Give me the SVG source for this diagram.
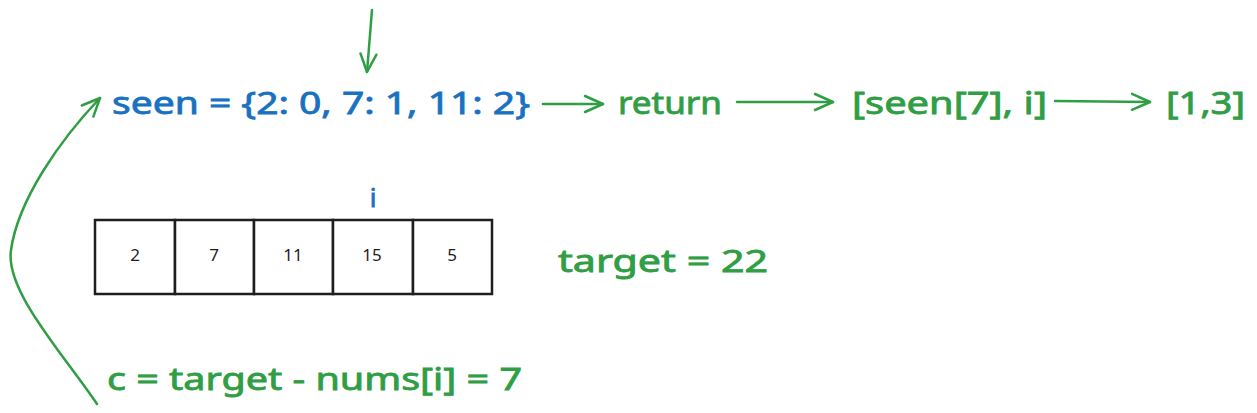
<svg xmlns="http://www.w3.org/2000/svg" width="1257" height="413" viewBox="0 0 1257 413">
<style>
.t{font-family:"Noto Sans","Liberation Sans",sans-serif;font-size:30px;stroke-width:0.8}
.blue{fill:#1971c2;stroke:#1971c2}
.green{fill:#2f9e44;stroke:#2f9e44}
.num{font-family:"Noto Sans","Liberation Sans",sans-serif;font-size:17px;fill:#1e1e1e;text-anchor:middle}
.conn{fill:none;stroke:#2f9e44;stroke-width:2.5;stroke-linecap:round}
.cell{fill:#ffffff;stroke:#1e1e1e;stroke-width:2.5}
</style>
<defs>
<marker id="ah" markerWidth="24" markerHeight="24" refX="20" refY="12" orient="auto" markerUnits="userSpaceOnUse">
<path d="M2,4 L20,12 L2,20" fill="none" stroke="#2f9e44" stroke-width="2.5" stroke-linecap="round" stroke-linejoin="round"/>
</marker>
</defs>
<rect width="1257" height="413" fill="#ffffff"/>
<g id="connectors">
<path class="conn" d="M372,10 L367,72" marker-end="url(#ah)"/>
<path class="conn" d="M543,104 L603,104" marker-end="url(#ah)"/>
<path class="conn" d="M737,102 L833,102" marker-end="url(#ah)"/>
<path class="conn" d="M1055,101 L1150,102" stroke-width="3" marker-end="url(#ah)"/>
<path class="conn" d="M97,404 C60,350 5,290 11,250 C18,200 60,140 100,98" marker-end="url(#ah)"/>
</g>
<g id="seen"><text class="t blue" x="112" y="114" textLength="418" lengthAdjust="spacingAndGlyphs">seen = {2: 0, 7: 1, 11: 2}</text></g>
<g id="return"><text class="t green" x="618" y="114" textLength="104" lengthAdjust="spacingAndGlyphs">return</text></g>
<g id="result-expr"><text class="t green" x="852" y="114" textLength="195" lengthAdjust="spacingAndGlyphs">[seen[7], i]</text></g>
<g id="result"><text class="t green" x="1166" y="114" textLength="79" lengthAdjust="spacingAndGlyphs">[1,3]</text></g>
<g id="index-i"><text class="t blue" x="373" y="207" text-anchor="middle" style="font-size:26px">i</text></g>
<g id="array">
<rect class="cell" x="95" y="220" width="80" height="74"/>
<rect class="cell" x="175" y="220" width="79" height="74"/>
<rect class="cell" x="254" y="220" width="79" height="74"/>
<rect class="cell" x="333" y="220" width="80" height="74"/>
<rect class="cell" x="413" y="220" width="79" height="74"/>
<text class="num" x="135" y="261">2</text>
<text class="num" x="214" y="261">7</text>
<text class="num" x="293" y="261">11</text>
<text class="num" x="372" y="261">15</text>
<text class="num" x="452" y="261">5</text>
</g>
<g id="target"><text class="t green" x="558" y="272" textLength="210" lengthAdjust="spacingAndGlyphs">target = 22</text></g>
<g id="complement"><text class="t green" x="107" y="390" textLength="415" lengthAdjust="spacingAndGlyphs">c = target - nums[i] = 7</text></g>
</svg>
